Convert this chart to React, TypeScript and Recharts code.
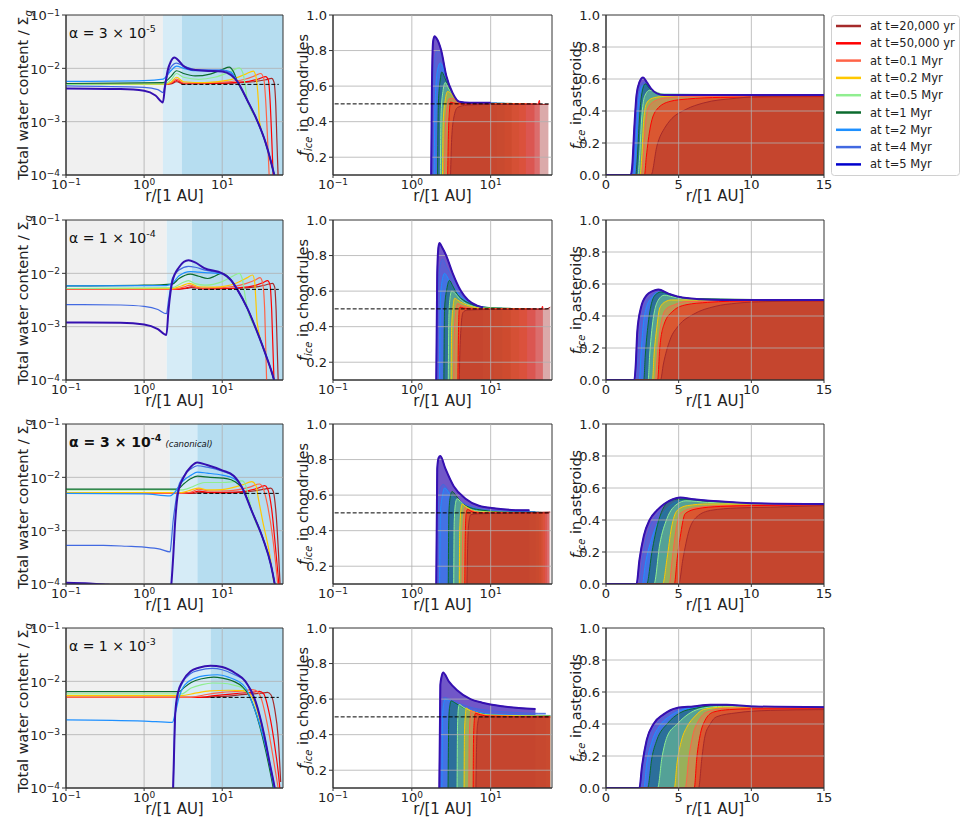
import React from "react";
import { ComposedChart, XAxis, YAxis, Line, Area, ReferenceArea, ReferenceLine } from "recharts";

type Pair = [number, number];
type Kind = "water" | "chond" | "ast";

const FONT = "'DejaVu Sans', sans-serif";
const TXT = "#222";

// series order everywhere: 20 kyr, 50 kyr, 0.1, 0.2, 0.5, 1, 2, 4, 5 Myr
const LABELS = ["at t=20,000 yr", "at t=50,000 yr", "at t=0.1 Myr", "at t=0.2 Myr", "at t=0.5 Myr", "at t=1 Myr", "at t=2 Myr", "at t=4 Myr", "at t=5 Myr"];
const COLORS = ["#a52a2a", "#ff0000", "#ff6347", "#ffc800", "#90ee90", "#0b6b2e", "#1e90ff", "#4169e1", "#0000cd"];
const EDGE5 = "#3510b0";

// alpha annotation per row: mantissa, exponent, canonical
const ALPHA_MANT = ["3", "1", "3", "1"];
const ALPHA_EXP = ["-5", "-4", "-4", "-3"];
const ALPHA_CANON = [false, false, true, false];

// shaded zones in the water panels (inner edge, outer edge) in AU
const ZONE_IN = [1.74, 1.95, 2.13, 2.3];
const ZONE_OUT = [3.03, 4.08, 4.8, 7.1];
const DASH_START = [3.0, 4.1, 4.8, 7.1];
const DASH_END = 53;

// ---- total water content / Sigma_g ----
const T1: Pair[] = [[15.7, 5.6e-3], [21, 2.5e-3], [28, 1.05e-3], [36, 4e-4], [42, 1.8e-4], [48, 8e-5], [55, 3e-5]];
const W1: Pair[][] = [
  [[0.1, 5e-3], [1.75, 5e-3], [2.2, 5.1e-3], [2.6, 5.6e-3], [3.2, 5.1e-3], [10, 5.2e-3], [25, 5.6e-3], [36, 6.1e-3], [43, 6.5e-3], [46, 5.5e-3], [48.5, 2e-3], [50, 5e-4], [52, 9e-5]],
  [[0.1, 5e-3], [1.75, 5e-3], [2.2, 5.2e-3], [2.6, 5.9e-3], [3.2, 5.2e-3], [10, 5.3e-3], [22, 5.7e-3], [30, 6.4e-3], [36, 7e-3], [39, 6e-3], [41, 2.5e-3], [43, 5e-4], [45, 9e-5]],
  [[0.1, 5e-3], [1.75, 5e-3], [2.2, 5.3e-3], [2.6, 6.3e-3], [3.2, 5.3e-3], [10, 5.5e-3], [20, 6.3e-3], [27, 7.4e-3], [31, 8e-3], [34, 6.5e-3], [36, 2.5e-3], [38, 5e-4], [40, 9e-5]],
  [[0.1, 5e-3], [1.75, 5e-3], [2.2, 5.5e-3], [2.6, 6.8e-3], [3.2, 5.6e-3], [6, 5.4e-3], [12, 6e-3], [20, 7.8e-3], [25, 8.9e-3], [27, 7e-3], [29, 2.5e-3], [30, 1e-3], [36, 4e-4], [48, 8e-5]],
  [[0.1, 5e-3], [1.75, 5.1e-3], [2.2, 6e-3], [2.6, 8e-3], [3.2, 6.8e-3], [5, 6.2e-3], [8, 6.8e-3], [13, 8.8e-3], [16.5, 1.02e-2], [18.5, 8e-3], [20, 4e-3], [21, 2.5e-3], [28, 1.05e-3], [36, 4e-4], [48, 8e-5]],
  [[0.1, 5.2e-3], [1.75, 5.4e-3], [2.2, 7e-3], [2.6, 9e-3], [3.2, 8e-3], [4.5, 7.2e-3], [7, 7.8e-3], [10, 9.5e-3], [12.3, 1.05e-2], [14, 8.5e-3], ...T1],
  [[0.1, 5.7e-3], [1, 5.9e-3], [1.75, 6.3e-3], [2.2, 9e-3], [2.6, 1.1e-2], [3.2, 1e-2], [4.5, 9e-3], [7, 9e-3], [10, 9.3e-3], [12.9, 8.5e-3], ...T1],
  [[0.1, 4.7e-3], [1, 4.4e-3], [1.5, 4e-3], [1.75, 3.5e-3], [1.85, 5e-3], [2.2, 1.05e-2], [2.6, 1.25e-2], [3.2, 1.1e-2], [4.5, 9.5e-3], [10, 9.2e-3], [12.9, 8e-3], ...T1],
  [[0.1, 4.2e-3], [0.5, 4.1e-3], [1, 3.8e-3], [1.4, 3.1e-3], [1.74, 2.3e-3], [1.85, 4.5e-3], [2.0, 9e-3], [2.2, 1.35e-2], [2.45, 1.6e-2], [2.7, 1.45e-2], [3.2, 1.1e-2], [4, 9.5e-3], [6, 9e-3], [10, 8.7e-3], [12.9, 7.5e-3], ...T1],
];

const T2: Pair[] = [[15.7, 4.9e-3], [21, 2.2e-3], [28, 8e-4], [36, 3e-4], [46, 1e-4], [55, 3e-5]];
const W2: Pair[][] = [
  [[0.1, 5e-3], [2.3, 5e-3], [3.5, 5.2e-3], [4, 5.4e-3], [6, 5.1e-3], [15, 5.2e-3], [30, 5.7e-3], [40, 6.3e-3], [44, 6.5e-3], [47, 5.5e-3], [49, 2e-3], [52, 1e-4], [53, 3e-5]],
  [[0.1, 5e-3], [2.3, 5e-3], [3.4, 5.3e-3], [4, 5.6e-3], [6, 5.1e-3], [12, 5.2e-3], [25, 5.8e-3], [34, 6.8e-3], [38, 7.3e-3], [41, 6e-3], [43, 2e-3], [46, 1e-4], [47, 3e-5]],
  [[0.1, 5e-3], [2.3, 5e-3], [3.2, 5.5e-3], [3.9, 6e-3], [5, 5.3e-3], [10, 5.4e-3], [20, 6.4e-3], [27, 7.6e-3], [30.5, 8.3e-3], [33, 6.5e-3], [35, 2e-3], [37, 1e-4], [38, 3e-5]],
  [[0.1, 5.2e-3], [2.3, 5.2e-3], [3, 5.8e-3], [3.8, 6.5e-3], [5, 5.6e-3], [8, 5.5e-3], [15, 6.5e-3], [21, 8.3e-3], [24.5, 9.3e-3], [26, 7e-3], [27, 3e-3], [28, 1.2e-3], [36, 3e-4], [46, 1e-4], [55, 3e-5]],
  [[0.1, 5.2e-3], [2.3, 5.4e-3], [3, 6.5e-3], [3.7, 7.3e-3], [4.5, 6.4e-3], [6, 6e-3], [10, 7e-3], [14, 9e-3], [16.5, 1e-2], [18, 8e-3], [19.5, 4e-3], [21, 2.2e-3], [28, 8e-4], [36, 3e-4], [46, 1e-4], [55, 3e-5]],
  [[0.1, 5.8e-3], [1, 6e-3], [2.3, 6.3e-3], [2.8, 8e-3], [3.9, 9.7e-3], [5, 8.8e-3], [6.5, 8e-3], [8, 8.8e-3], [9.6, 1e-2], [11, 9.5e-3], [12.9, 7.5e-3], ...T2],
  [[0.1, 5.8e-3], [1.93, 5.9e-3], [2.3, 6.5e-3], [2.8, 9e-3], [3.9, 1.08e-2], [5, 1.05e-2], [7, 1.02e-2], [10, 9.8e-3], [12.9, 7.5e-3], ...T2],
  [[0.1, 2.6e-3], [0.5, 2.55e-3], [1, 2.4e-3], [1.5, 2.1e-3], [1.93, 1.75e-3], [2.05, 3e-3], [2.3, 8e-3], [2.8, 1.15e-2], [3.7, 1.35e-2], [4.5, 1.3e-2], [6, 1.15e-2], [10, 9.8e-3], [12.9, 7.5e-3], ...T2],
  [[0.1, 1.2e-3], [0.5, 1.18e-3], [1, 1.1e-3], [1.5, 9e-4], [1.93, 7e-4], [2.05, 2e-3], [2.3, 7e-3], [2.8, 1.3e-2], [3.7, 1.75e-2], [4.5, 1.6e-2], [5.9, 1.25e-2], [10, 1e-2], [12.9, 7.5e-3], ...T2],
];

const T3: Pair[] = [[18, 6.4e-3], [24, 2.3e-3], [33, 7.3e-4], [42, 2.3e-4], [47, 1e-4], [52, 4e-5]];
const W3: Pair[][] = [
  [[0.1, 5e-3], [4.5, 5e-3], [5, 5.2e-3], [8, 5.1e-3], [20, 5.3e-3], [35, 6e-3], [42, 6.3e-3], [45, 5.5e-3], [49, 2e-3], [53, 3e-4], [55, 1e-4], [57, 4e-5]],
  [[0.1, 5e-3], [4, 5.1e-3], [5, 5.5e-3], [7, 5.2e-3], [15, 5.3e-3], [28, 6.2e-3], [35, 7e-3], [38, 6.2e-3], [43, 2.5e-3], [48, 5e-4], [53, 1e-4], [55, 5e-5]],
  [[0.1, 5e-3], [3, 5e-3], [4, 5.3e-3], [5, 6e-3], [7, 5.5e-3], [12, 5.6e-3], [22, 6.5e-3], [30, 7.5e-3], [33, 6.5e-3], [38, 3e-3], [44, 8e-4], [50, 1.5e-4], [53, 6e-5]],
  [[0.1, 5.2e-3], [3, 5.2e-3], [4, 5.8e-3], [5, 6.3e-3], [6.5, 5.8e-3], [10, 5.9e-3], [18, 7.2e-3], [24, 8.3e-3], [27, 7e-3], [29, 4e-3], [33, 1.5e-3], [40, 4e-4], [46, 1e-4], [50, 4e-5]],
  [[0.1, 5.8e-3], [3, 5.8e-3], [4, 6.5e-3], [5, 7.5e-3], [6, 8e-3], [10, 8e-3], [15, 8.4e-3], [18, 8.6e-3], [20, 7e-3], [22, 4e-3], [24, 2.3e-3], [33, 7.3e-4], [42, 2.3e-4], [47, 1e-4], [52, 4e-5]],
  [[0.1, 6e-3], [2.7, 6e-3], [3.2, 7.5e-3], [4, 9.5e-3], [4.8, 1.05e-2], [7, 1e-2], [10, 9.7e-3], [13, 9e-3], [16, 7.5e-3], ...T3],
  [[0.1, 5e-3], [1, 4.9e-3], [2.15, 4.5e-3], [2.4, 5e-3], [3, 8e-3], [4, 1.1e-2], [4.8, 1.25e-2], [6.4, 1.2e-2], [10, 1.1e-2], [14, 9.5e-3], ...T3],
  [[0.1, 5.3e-4], [0.3, 5.3e-4], [0.6, 5.1e-4], [1, 4.9e-4], [1.6, 4.5e-4], [2.15, 4e-4], [2.2, 5e-4], [2.35, 1.5e-3], [2.5, 3e-3], [2.7, 6e-3], [3.2, 1.05e-2], [4, 1.45e-2], [4.8, 1.65e-2], [6.4, 1.55e-2], [10, 1.3e-2], [14, 1.05e-2], ...T3],
  [[0.1, 1.05e-4], [0.2, 1.02e-4], [0.3, 9.8e-5], [1, 8e-5], [2.1, 6e-5], [2.2, 8e-5], [2.35, 3e-4], [2.5, 1.5e-3], [2.7, 4.8e-3], [3.2, 1e-2], [4, 1.6e-2], [4.8, 1.9e-2], [6.4, 1.7e-2], [10, 1.35e-2], [14, 1.07e-2], ...T3],
];

const T4: Pair[] = [[26.7, 4.2e-3], [34.4, 1e-3], [41, 2.7e-4], [47, 1e-4], [52, 4e-5]];
const W4: Pair[][] = [
  [[0.1, 5e-3], [6, 5e-3], [10, 5.2e-3], [20, 5.7e-3], [32, 6e-3], [38, 6.2e-3], [42, 5.6e-3], [47, 3e-3], [52, 9e-4], [56, 1.3e-4]],
  [[0.1, 5e-3], [5, 5e-3], [8, 5.4e-3], [15, 5.9e-3], [25, 6.3e-3], [30, 6.5e-3], [34, 5.8e-3], [40, 2.5e-3], [48, 5e-4], [54, 1.2e-4], [56, 6e-5]],
  [[0.1, 5e-3], [4, 5e-3], [6, 5.6e-3], [10, 6.2e-3], [18, 6.6e-3], [24, 7e-3], [28, 6.5e-3], [32, 4.5e-3], [38, 1.5e-3], [46, 3e-4], [52, 1e-4], [55, 6e-5]],
  [[0.1, 5.4e-3], [3, 5.4e-3], [4.5, 6e-3], [7, 6.6e-3], [12, 6.8e-3], [18, 6.7e-3], [22, 6e-3], [26, 4e-3], [30, 2e-3], [36, 6e-4], [44, 1.4e-4], [48, 7e-5]],
  [[0.1, 5.8e-3], [3, 5.8e-3], [4, 7.5e-3], [5.5, 8.7e-3], [7.5, 9.3e-3], [10, 9.2e-3], [14, 8.5e-3], [18, 7.5e-3], [22, 5.5e-3], [26, 3.2e-3], [30, 1.6e-3], [36, 5.5e-4], [44, 1.3e-4], [48, 7e-5]],
  [[0.1, 6.4e-3], [2.8, 6.4e-3], [3.2, 7.5e-3], [4, 9.5e-3], [5.5, 1.12e-2], [7.8, 1.2e-2], [10, 1.15e-2], [14, 1e-2], [18, 8e-3], [22, 5.5e-3], [26, 3e-3], [30, 1.5e-3], [36, 5e-4], [44, 1.2e-4], [47, 7e-5]],
  [[0.1, 1.9e-3], [1, 1.8e-3], [2.3, 1.7e-3], [2.5, 2.5e-3], [2.8, 5e-3], [3.3, 8.5e-3], [4.5, 1.15e-2], [6, 1.28e-2], [8.7, 1.33e-2], [12, 1.2e-2], [16, 1e-2], [20, 7.5e-3], [25, 3.5e-3], [30, 1.6e-3], [35, 7e-4], [41, 2.5e-4], [46, 1e-4], [50, 5e-5]],
  [[2.3, 3e-5], [2.4, 3e-4], [2.5, 2.2e-3], [2.7, 5.5e-3], [3.1, 9.3e-3], [3.95, 1.4e-2], [5, 1.6e-2], [7.5, 1.75e-2], [10, 1.65e-2], [14.9, 1.3e-2], [19.8, 1e-2], ...T4],
  [[2.3, 3e-5], [2.4, 3e-4], [2.5, 2.4e-3], [2.7, 6e-3], [3.1, 1e-2], [3.95, 1.55e-2], [5, 1.8e-2], [7.1, 1.97e-2], [10, 1.85e-2], [14.9, 1.4e-2], [19.8, 1e-2], ...T4],
];

// ---- f_ice in chondrules ----
const C1: Pair[][] = [
  [[3.1, 0.1], [3.2, 0.3], [3.4, 0.42], [3.8, 0.48], [5, 0.493], [10, 0.497], [54, 0.497]],
  [[2.85, 0.1], [2.9, 0.3], [3.0, 0.46], [3.1, 0.51], [3.4, 0.505], [4.5, 0.5], [10, 0.499], [40, 0.499], [41.5, 0.52], [42, 0.499]],
  [[2.6, 0.1], [2.65, 0.35], [2.8, 0.48], [3.0, 0.53], [3.3, 0.53], [3.7, 0.515], [4.5, 0.5], [36, 0.5]],
  [[2.45, 0.1], [2.5, 0.4], [2.65, 0.52], [2.85, 0.57], [3.1, 0.56], [3.5, 0.53], [4.2, 0.505], [5.4, 0.501], [28, 0.501]],
  [[2.3, 0.1], [2.35, 0.45], [2.5, 0.58], [2.65, 0.62], [2.9, 0.59], [3.3, 0.55], [4, 0.51], [5.4, 0.502], [23, 0.502]],
  [[2.12, 0.1], [2.17, 0.5], [2.3, 0.64], [2.4, 0.68], [2.6, 0.65], [2.9, 0.6], [3.3, 0.55], [4, 0.51], [5.4, 0.503], [18.5, 0.503]],
  [[1.92, 0.1], [1.97, 0.5], [2.1, 0.68], [2.3, 0.73], [2.5, 0.7], [2.8, 0.64], [3.3, 0.56], [4, 0.51], [5.4, 0.504], [15, 0.504]],
  [[1.8, 0.1], [1.85, 0.55], [1.95, 0.75], [2.1, 0.8], [2.36, 0.78], [2.73, 0.66], [3.3, 0.56], [4, 0.512], [5.4, 0.505], [12, 0.505]],
  [[1.76, 0.1], [1.8, 0.6], [1.86, 0.85], [1.94, 0.88], [2.05, 0.87], [2.36, 0.8], [2.73, 0.66], [3.3, 0.56], [4, 0.512], [5.4, 0.506], [10, 0.506]],
];
const C2: Pair[][] = [
  [[4.0, 0.1], [4.1, 0.3], [4.45, 0.48], [5, 0.493], [10, 0.497], [50, 0.499], [57, 0.51]],
  [[3.84, 0.1], [3.9, 0.35], [4.0, 0.5], [4.1, 0.51], [4.5, 0.505], [6, 0.499], [44, 0.499], [45.5, 0.515], [46, 0.5]],
  [[3.4, 0.1], [3.45, 0.35], [3.6, 0.48], [3.8, 0.53], [4.2, 0.52], [5, 0.51], [7, 0.5], [37, 0.5]],
  [[3.15, 0.1], [3.2, 0.4], [3.35, 0.52], [3.5, 0.56], [3.8, 0.55], [4.5, 0.53], [5.5, 0.515], [8, 0.503], [29, 0.501]],
  [[2.9, 0.1], [2.95, 0.45], [3.05, 0.56], [3.2, 0.6], [3.5, 0.59], [4, 0.56], [4.5, 0.54], [5.5, 0.52], [8, 0.505], [23, 0.502]],
  [[2.55, 0.1], [2.6, 0.5], [2.8, 0.62], [3.0, 0.66], [3.3, 0.63], [3.8, 0.58], [4.5, 0.55], [5.5, 0.53], [8, 0.51], [18, 0.503]],
  [[2.25, 0.1], [2.3, 0.55], [2.45, 0.67], [2.6, 0.7], [2.9, 0.67], [3.3, 0.63], [4.2, 0.57], [5.15, 0.54], [6.6, 0.52], [9.7, 0.506], [14, 0.504]],
  [[2.1, 0.1], [2.15, 0.6], [2.3, 0.75], [2.45, 0.78], [2.73, 0.74], [3.3, 0.67], [4.2, 0.59], [5.15, 0.55], [6.6, 0.52], [9.7, 0.507], [11, 0.505]],
  [[2.04, 0.1], [2.1, 0.7], [2.18, 0.85], [2.25, 0.87], [2.4, 0.85], [2.73, 0.8], [3.3, 0.7], [4.2, 0.6], [5.15, 0.55], [6.6, 0.52], [8, 0.508]],
];
const C3: Pair[][] = [
  [[5.0, 0.1], [5.1, 0.3], [5.3, 0.45], [5.6, 0.49], [7, 0.495], [15, 0.498], [57, 0.505]],
  [[4.7, 0.1], [4.75, 0.35], [4.9, 0.5], [5.1, 0.52], [5.6, 0.51], [7, 0.5], [55, 0.5]],
  [[4.35, 0.1], [4.4, 0.35], [4.55, 0.48], [4.7, 0.53], [5.1, 0.52], [6, 0.51], [8, 0.5], [52, 0.5]],
  [[4.0, 0.1], [4.05, 0.4], [4.2, 0.52], [4.35, 0.55], [4.7, 0.54], [5.5, 0.52], [7, 0.505], [49, 0.501]],
  [[3.4, 0.1], [3.45, 0.45], [3.6, 0.56], [3.75, 0.58], [4.2, 0.56], [5, 0.53], [7, 0.51], [12, 0.503], [46, 0.502]],
  [[2.9, 0.1], [2.95, 0.5], [3.1, 0.6], [3.24, 0.62], [3.6, 0.6], [4.2, 0.56], [5.5, 0.53], [8, 0.515], [15, 0.504], [44, 0.503]],
  [[2.25, 0.1], [2.3, 0.5], [2.45, 0.6], [2.6, 0.64], [3, 0.61], [4, 0.56], [5.5, 0.53], [8, 0.515], [15, 0.505], [41, 0.504]],
  [[2.12, 0.1], [2.18, 0.55], [2.3, 0.64], [2.5, 0.66], [3, 0.62], [4, 0.57], [5.5, 0.54], [8, 0.52], [15, 0.51], [37, 0.507]],
  [[2.04, 0.1], [2.1, 0.75], [2.19, 0.81], [2.3, 0.82], [2.66, 0.75], [3.4, 0.65], [4.8, 0.58], [7.1, 0.54], [11.6, 0.525], [25, 0.515], [31, 0.515]],
];
const C4: Pair[][] = [
  [[6.5, 0.1], [6.6, 0.3], [6.8, 0.45], [7.2, 0.5], [10, 0.5], [57, 0.5]],
  [[6.0, 0.1], [6.05, 0.35], [6.2, 0.48], [6.4, 0.52], [7, 0.515], [9, 0.505], [57, 0.5]],
  [[5.3, 0.1], [5.35, 0.38], [5.5, 0.5], [5.6, 0.535], [6, 0.53], [7.5, 0.515], [10, 0.505], [57, 0.5]],
  [[4.6, 0.1], [4.65, 0.4], [4.8, 0.52], [4.9, 0.55], [5.3, 0.54], [6.5, 0.525], [9, 0.51], [57, 0.503]],
  [[3.75, 0.1], [3.8, 0.45], [3.9, 0.55], [4.0, 0.57], [4.5, 0.555], [5.5, 0.535], [7, 0.52], [10, 0.51], [57, 0.505]],
  [[2.88, 0.1], [2.95, 0.5], [3.05, 0.57], [3.15, 0.59], [3.5, 0.58], [4.5, 0.55], [6, 0.53], [10, 0.51], [20, 0.506], [57, 0.506]],
  [[2.4, 0.1], [2.45, 0.5], [2.55, 0.58], [2.66, 0.6], [3, 0.59], [4, 0.56], [6, 0.535], [10, 0.515], [20, 0.51], [57, 0.508]],
  [[2.3, 0.1], [2.36, 0.5], [2.45, 0.59], [2.55, 0.61], [3, 0.6], [4, 0.575], [6, 0.55], [10, 0.535], [20, 0.525], [40, 0.52], [50, 0.52]],
  [[2.23, 0.1], [2.3, 0.68], [2.37, 0.72], [2.49, 0.75], [2.94, 0.7], [3.75, 0.65], [5.55, 0.6], [7.8, 0.58], [14, 0.56], [22.8, 0.55], [37, 0.545]],
];

// ---- f_ice in asteroids ----
const A1: Pair[][] = [
  [[0, 0], [3.1, 0], [3.5, 0.18], [4.08, 0.3], [4.4, 0.34], [5.5, 0.41], [6.7, 0.45], [9, 0.48], [10.4, 0.49], [15, 0.495]],
  [[0, 0], [2.65, 0], [2.77, 0.11], [3.05, 0.3], [3.5, 0.41], [4.4, 0.46], [5.6, 0.475], [7.9, 0.485], [15, 0.49]],
  [[0, 0], [2.45, 0], [2.55, 0.1], [2.7, 0.3], [2.9, 0.42], [3.3, 0.46], [4, 0.48], [5.5, 0.49], [15, 0.495]],
  [[0, 0], [2.35, 0], [2.45, 0.1], [2.6, 0.35], [2.8, 0.45], [3.2, 0.48], [3.8, 0.49], [5, 0.495], [15, 0.5]],
  [[0, 0], [2.2, 0], [2.3, 0.1], [2.45, 0.35], [2.65, 0.49], [3.0, 0.53], [3.4, 0.52], [4, 0.505], [15, 0.5]],
  [[0, 0], [2.05, 0], [2.15, 0.1], [2.3, 0.35], [2.45, 0.5], [2.7, 0.57], [3.0, 0.54], [3.5, 0.51], [4.2, 0.5], [15, 0.5]],
  [[0, 0], [1.9, 0], [2.0, 0.1], [2.15, 0.35], [2.3, 0.5], [2.55, 0.56], [2.8, 0.56], [3.1, 0.53], [3.6, 0.505], [15, 0.5]],
  [[0, 0], [1.8, 0], [1.9, 0.1], [2.05, 0.35], [2.2, 0.5], [2.45, 0.57], [2.7, 0.58], [3.0, 0.55], [3.5, 0.51], [4, 0.5], [15, 0.5]],
  [[0, 0], [1.7, 0], [1.8, 0.05], [1.95, 0.3], [2.1, 0.5], [2.3, 0.58], [2.55, 0.61], [2.8, 0.58], [3.1, 0.54], [3.5, 0.51], [4, 0.5], [15, 0.5]],
];
const A2: Pair[][] = [
  [[0, 0], [3.75, 0], [3.95, 0.1], [4.4, 0.25], [5, 0.34], [6, 0.41], [7.5, 0.46], [9, 0.48], [11, 0.49], [15, 0.495]],
  [[0, 0], [3.55, 0], [3.7, 0.2], [4.0, 0.35], [4.6, 0.43], [5.5, 0.47], [7, 0.485], [10, 0.495], [15, 0.495]],
  [[0, 0], [3.4, 0], [3.5, 0.12], [3.7, 0.3], [4.1, 0.44], [4.7, 0.47], [5.5, 0.49], [15, 0.495]],
  [[0, 0], [3.2, 0], [3.3, 0.15], [3.5, 0.33], [3.7, 0.45], [4.1, 0.49], [4.5, 0.5], [15, 0.5]],
  [[0, 0], [2.9, 0], [3.0, 0.15], [3.2, 0.35], [3.6, 0.5], [4.0, 0.53], [4.6, 0.52], [5.5, 0.505], [15, 0.5]],
  [[0, 0], [2.6, 0], [2.7, 0.15], [2.9, 0.35], [3.2, 0.5], [3.5, 0.54], [3.8, 0.55], [4.5, 0.53], [5.5, 0.51], [15, 0.5]],
  [[0, 0], [2.3, 0], [2.4, 0.15], [2.55, 0.33], [2.8, 0.46], [3.2, 0.52], [3.7, 0.55], [4.3, 0.535], [5, 0.52], [6.5, 0.505], [15, 0.5]],
  [[0, 0], [2.1, 0], [2.2, 0.15], [2.35, 0.33], [2.6, 0.45], [3, 0.52], [3.6, 0.55], [4.3, 0.535], [5, 0.52], [6.5, 0.505], [15, 0.5]],
  [[0, 0], [1.95, 0], [2.05, 0.1], [2.15, 0.3], [2.4, 0.45], [2.8, 0.53], [3.2, 0.555], [3.6, 0.565], [4.3, 0.54], [5, 0.52], [6.5, 0.505], [8, 0.5], [15, 0.5]],
];
const A3: Pair[][] = [
  [[0, 0], [5.0, 0], [5.3, 0.16], [5.7, 0.33], [6.25, 0.42], [7.2, 0.46], [9, 0.475], [11.3, 0.48], [15, 0.49]],
  [[0, 0], [4.7, 0], [4.9, 0.16], [5.1, 0.29], [5.45, 0.44], [6.25, 0.47], [7.9, 0.485], [10, 0.49], [15, 0.495]],
  [[0, 0], [4.35, 0], [4.55, 0.15], [4.8, 0.33], [5.1, 0.44], [6, 0.475], [8, 0.49], [15, 0.495]],
  [[0, 0], [3.9, 0], [4.2, 0.16], [4.5, 0.35], [4.9, 0.46], [5.6, 0.49], [7, 0.5], [15, 0.5]],
  [[0, 0], [3.3, 0], [3.7, 0.25], [4.2, 0.41], [4.9, 0.5], [5.5, 0.52], [7, 0.51], [10, 0.502], [15, 0.5]],
  [[0, 0], [2.8, 0], [3.16, 0.2], [3.6, 0.39], [4.4, 0.52], [5, 0.53], [5.5, 0.53], [7, 0.515], [10, 0.503], [15, 0.5]],
  [[0, 0], [2.5, 0], [2.7, 0.12], [3.2, 0.3], [3.6, 0.39], [4.0, 0.45], [5.0, 0.52], [5.5, 0.53], [6, 0.525], [8, 0.512], [10, 0.503], [15, 0.5]],
  [[0, 0], [2.3, 0], [2.5, 0.15], [3.0, 0.35], [3.5, 0.43], [4, 0.48], [4.6, 0.52], [5.2, 0.535], [6, 0.53], [8, 0.515], [10, 0.505], [15, 0.5]],
  [[0, 0], [2.1, 0], [2.3, 0.15], [2.6, 0.3], [3.0, 0.4], [3.5, 0.46], [4.0, 0.5], [4.6, 0.53], [5.1, 0.54], [6, 0.53], [8, 0.515], [10, 0.505], [15, 0.5]],
];
const A4: Pair[][] = [
  [[0, 0], [6.37, 0], [6.6, 0.19], [6.8, 0.32], [7.17, 0.4], [7.6, 0.445], [9, 0.47], [11.3, 0.485], [15, 0.49]],
  [[0, 0], [6.07, 0], [6.25, 0.19], [6.5, 0.34], [6.8, 0.42], [7.4, 0.475], [8.5, 0.49], [10, 0.495], [15, 0.495]],
  [[0, 0], [5.45, 0], [5.7, 0.19], [6.0, 0.34], [6.37, 0.42], [6.94, 0.475], [8.5, 0.5], [15, 0.5]],
  [[0, 0], [4.7, 0], [4.88, 0.15], [5.2, 0.3], [5.56, 0.38], [6.14, 0.45], [6.7, 0.49], [8, 0.505], [15, 0.5]],
  [[0, 0], [3.55, 0], [3.85, 0.19], [4.2, 0.32], [4.9, 0.4], [5.8, 0.47], [6.7, 0.5], [8, 0.51], [10, 0.505], [15, 0.5]],
  [[0, 0], [2.86, 0], [3.16, 0.19], [3.5, 0.3], [4.2, 0.4], [5.1, 0.47], [6.25, 0.5], [7.5, 0.515], [10, 0.51], [15, 0.505]],
  [[0, 0], [2.6, 0], [2.8, 0.15], [3.2, 0.3], [3.7, 0.39], [4.4, 0.45], [5.3, 0.49], [6.5, 0.505], [8, 0.515], [10, 0.51], [15, 0.505]],
  [[0, 0], [2.4, 0], [2.6, 0.15], [2.95, 0.3], [3.4, 0.39], [4.1, 0.45], [5, 0.49], [6, 0.505], [7.5, 0.515], [10, 0.51], [15, 0.505]],
  [[0, 0], [2.3, 0], [2.47, 0.13], [2.8, 0.3], [3.27, 0.4], [3.96, 0.46], [4.88, 0.5], [6, 0.51], [7.2, 0.52], [8.3, 0.52], [10, 0.51], [15, 0.505]],
];

const WATER = [W1, W2, W3, W4];
const CHOND = [C1, C2, C3, C4];
const AST = [A1, A2, A3, A4];

const ROW_TOPS = [15, 220, 424, 628];
const GEOM = {
  water: { left: 0, yw: 66, pw: 217 },
  chond: { left: 273, yw: 60, pw: 219 },
  ast: { left: 546, yw: 60, pw: 218 },
};

const pts = (a: Pair[]) => a.map(([x, y]) => ({ x, y }));
const supText = (e: number) => (e < 0 ? "\u2212" + Math.abs(e) : String(e));

function PowTickX(p: any) {
  const e = Math.round(Math.log10(p.payload.value));
  return (
    <text x={p.x} y={p.y} dy="0.7em" textAnchor="middle" fontSize={13} fill={TXT} fontFamily={FONT}>
      10<tspan dy="-0.5em" fontSize={9}>{supText(e)}</tspan>
    </text>
  );
}

function PowTickY(p: any) {
  const e = Math.round(Math.log10(p.payload.value));
  return (
    <text x={p.x} y={p.y} dy="0.4em" textAnchor="end" fontSize={13} fill={TXT} fontFamily={FONT}>
      10<tspan dy="-0.5em" fontSize={9}>{supText(e)}</tspan>
    </text>
  );
}

const xLabel = (p: any) => {
  const vb = p.viewBox || { x: 0, y: 0, width: 0 };
  return (
    <text x={vb.x + vb.width / 2} y={vb.y + 26} textAnchor="middle" fontSize={15} fill={TXT} fontFamily={FONT}>
      r/[1 AU]
    </text>
  );
};

const yLabel = (kind: Kind) => (p: any) => {
  const vb = p.viewBox || { x: 0, y: 0, width: 0, height: 0 };
  const cx = vb.x + vb.width - (kind === "water" ? 43 : 30);
  const cy = vb.y + vb.height / 2;
  const common = { x: cx, y: cy, dy: "0.35em", textAnchor: "middle" as const, fontSize: 14.5, fill: TXT, fontFamily: FONT, transform: `rotate(-90 ${cx} ${cy})` };
  if (kind === "water") {
    return (
      <text {...common}>
        Total water content / Σ<tspan dy={4} fontSize={10} fontStyle="italic">g</tspan>
      </text>
    );
  }
  return (
    <text {...common}>
      <tspan fontStyle="italic">f</tspan>
      <tspan dy={4} fontSize={10} fontStyle="italic">ice</tspan>
      <tspan dy={-4}>{kind === "chond" ? " in chondrules" : " in asteroids"}</tspan>
    </text>
  );
};

function Panel({ kind, row }: { kind: Kind; row: number }) {
  const g = GEOM[kind];
  const W = g.yw + g.pw + 12;
  const H = 210;
  const logX = kind !== "ast";
  const xDom: [number, number] = logX ? [0.1, 60] : [0, 15];
  const yDom: [number, number] = kind === "water" ? [1e-4, 0.1] : kind === "chond" ? [0.1, 1] : [0, 1];
  const xTicks = logX ? [0.1, 1, 10] : [0, 5, 10, 15];
  const yTicks = kind === "water" ? [1e-4, 1e-3, 1e-2, 1e-1] : kind === "chond" ? [0.2, 0.4, 0.6, 0.8, 1.0] : [0, 0.2, 0.4, 0.6, 0.8, 1.0];
  const gridX = logX ? [1, 10] : [5, 10];
  const gridY = kind === "water" ? [1e-3, 1e-2] : [0.2, 0.4, 0.6, 0.8];
  const series = kind === "water" ? WATER[row] : kind === "chond" ? CHOND[row] : AST[row];
  const base = yDom[0];

  return (
    <div style={{ position: "absolute", left: g.left, top: ROW_TOPS[row] - 10, width: W, height: H }}>
      <ComposedChart width={W} height={H} margin={{ top: 10, right: 12, bottom: 0, left: 0 }}>
        <XAxis
          type="number"
          dataKey="x"
          scale={logX ? "log" : "linear"}
          domain={xDom}
          allowDataOverflow
          ticks={xTicks}
          interval={0}
          height={40}
          tickSize={3}
          tickMargin={2}
          stroke="#333"
          tick={logX ? <PowTickX /> : { fontSize: 13, fill: TXT, fontFamily: FONT }}
          label={{ content: xLabel }}
        />
        <YAxis
          type="number"
          scale={kind === "water" ? "log" : "linear"}
          domain={yDom}
          allowDataOverflow
          ticks={yTicks}
          interval={0}
          width={g.yw}
          tickSize={4}
          stroke="#333"
          tick={kind === "water" ? <PowTickY /> : { fontSize: 13, fill: TXT, fontFamily: FONT }}
          tickFormatter={(v: number) => v.toFixed(1)}
          label={{ content: yLabel(kind) }}
        />
        {kind === "water" && (
          <>
            <ReferenceArea x1={0.1} x2={ZONE_IN[row]} fill="#f0f0f0" fillOpacity={1} stroke="none" />
            <ReferenceArea x1={ZONE_IN[row]} x2={ZONE_OUT[row]} fill="#d6ecf7" fillOpacity={1} stroke="none" />
            <ReferenceArea x1={ZONE_OUT[row]} x2={60} fill="#b6ddf0" fillOpacity={1} stroke="none" />
          </>
        )}
        {gridX.map((v) => (
          <ReferenceLine key={"gx" + v} x={v} stroke="#b0b0b0" strokeWidth={0.8} />
        ))}
        {gridY.map((v) => (
          <ReferenceLine key={"gy" + v} y={v} stroke="#b0b0b0" strokeWidth={0.8} />
        ))}

        {kind === "water" &&
          series.map((s, i) => (
            <Line
              key={"w" + i}
              data={pts(s)}
              dataKey="y"
              type="monotone"
              stroke={i === 8 ? EDGE5 : COLORS[i]}
              strokeWidth={i === 8 ? 2 : 1.2}
              dot={false}
              activeDot={false}
              isAnimationActive={false}
            />
          ))}
        {kind === "water" && (
          <Line
            data={pts([[DASH_START[row], 5e-3], [DASH_END, 5e-3]])}
            dataKey="y"
            stroke="#000"
            strokeWidth={1}
            strokeDasharray="4 2"
            dot={false}
            activeDot={false}
            isAnimationActive={false}
          />
        )}

        {kind !== "water" &&
          [8, 7, 6, 5, 4, 3, 2, 1, 0].map((i) => (
            <Area
              key={"a" + i}
              data={pts(series[i])}
              dataKey="y"
              type="monotone"
              baseValue={base}
              stroke={i === 8 ? EDGE5 : COLORS[i]}
              strokeWidth={1}
              fill={i === 8 ? EDGE5 : COLORS[i]}
              fillOpacity={i === 8 ? 0.7 : 0.4}
              dot={false}
              activeDot={false}
              isAnimationActive={false}
            />
          ))}
        {kind !== "water" && (
          <Line
            data={pts(series[8])}
            dataKey="y"
            type="monotone"
            stroke={EDGE5}
            strokeWidth={2}
            dot={false}
            activeDot={false}
            isAnimationActive={false}
          />
        )}
        {kind === "chond" && (
          <Line
            data={pts([[0.105, 0.5], [57, 0.5]])}
            dataKey="y"
            stroke="#000"
            strokeWidth={1}
            strokeDasharray="4 2"
            dot={false}
            activeDot={false}
            isAnimationActive={false}
          />
        )}
        <ReferenceArea x1={xDom[0]} x2={xDom[1]} y1={yDom[0]} y2={yDom[1]} fill="none" stroke="#333" strokeWidth={1} ifOverflow="visible" />
      </ComposedChart>
    </div>
  );
}

function AlphaNote({ row }: { row: number }) {
  const bold = ALPHA_CANON[row];
  return (
    <div
      style={{
        position: "absolute",
        left: 69,
        top: ROW_TOPS[row] + 10,
        fontSize: 14,
        lineHeight: "17px",
        fontFamily: FONT,
        fontWeight: bold ? "bold" : "normal",
        color: "#111",
        whiteSpace: "nowrap",
      }}
    >
      α = {ALPHA_MANT[row]} × 10
      <span style={{ fontSize: 9.5, position: "relative", top: -6 }}>{ALPHA_EXP[row]}</span>
      {bold && <span style={{ fontSize: 8.5, fontStyle: "italic", fontWeight: "normal", marginLeft: 4 }}>(canonical)</span>}
    </div>
  );
}

function LegendBox() {
  return (
    <svg style={{ position: "absolute", left: 830, top: 14 }} width={132} height={164}>
      <rect x={1.5} y={1.5} width={128} height={160} rx={3} fill="#fff" stroke="#d0d0d0" />
      {LABELS.map((l, i) => (
        <g key={l}>
          <line x1={6} x2={31} y1={12 + i * 17.3} y2={12 + i * 17.3} stroke={COLORS[i]} strokeWidth={2.5} />
          <text x={40} y={12 + i * 17.3} dy="0.35em" fontSize={11.5} fill={TXT} fontFamily={FONT}>
            {l}
          </text>
        </g>
      ))}
    </svg>
  );
}

export default function App() {
  return (
    <div style={{ position: "absolute", left: 0, top: 0, width: 977, height: 832, background: "#fff", fontFamily: FONT }}>
      {[0, 1, 2, 3].map((r) => (
        <React.Fragment key={r}>
          <Panel kind="water" row={r} />
          <Panel kind="chond" row={r} />
          <Panel kind="ast" row={r} />
          <AlphaNote row={r} />
        </React.Fragment>
      ))}
      <LegendBox />
    </div>
  );
}
